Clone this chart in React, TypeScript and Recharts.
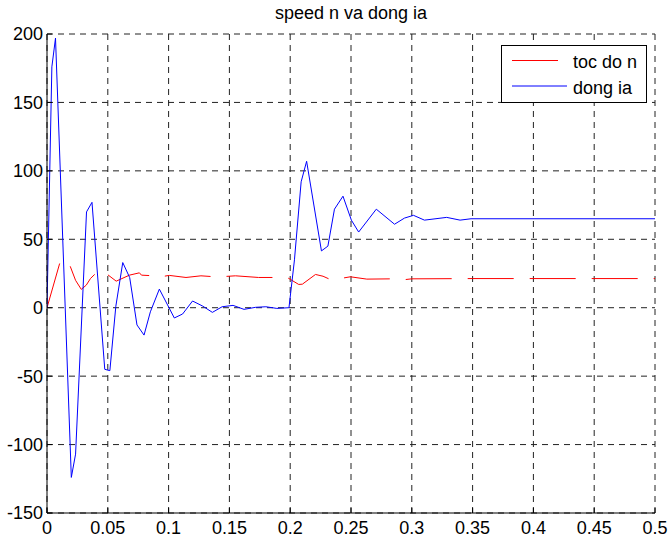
import { CartesianGrid, Legend, Line, LineChart, XAxis, YAxis } from 'recharts';

// toc do n (speed) — red, dashed
const SPEED_T = [
  0, 0.0104, 0.014, 0.018, 0.0235, 0.0282, 0.0323, 0.0358, 0.04, 0.0451, 0.0569, 0.0678, 0.076,
  0.0777, 0.084, 0.0897, 0.1006, 0.1143, 0.1266, 0.14, 0.155, 0.174, 0.1975, 0.207, 0.21, 0.2208,
  0.227, 0.234, 0.2495, 0.263, 0.2836, 0.293, 0.3, 0.35, 0.5,
];
const SPEED_N = [
  0, 32.3, 35.5, 32.8, 20, 13.4, 16.5, 21.4, 25, 27.4, 19.4, 23.8, 25.5, 23.8, 23.5, 22.1, 23.6,
  22.1, 23.3, 22.5, 23.3, 22.1, 22.1, 17, 17.2, 24.3, 23, 20.2, 22.6, 20.9, 21.1, 20.4, 21.1, 21.3,
  21.3,
];

// dong ia (current) — blue
const CURRENT_T = [
  0, 0.004, 0.007, 0.02, 0.0235, 0.0325, 0.037, 0.0475, 0.0517, 0.0566, 0.0623, 0.068, 0.074,
  0.0798, 0.085, 0.0924, 0.1047, 0.1115, 0.1197, 0.128, 0.136, 0.144, 0.153, 0.162, 0.1716, 0.18,
  0.189, 0.199, 0.2035, 0.209, 0.2135, 0.2257, 0.231, 0.2364, 0.2434, 0.2503, 0.2563, 0.2708,
  0.2858, 0.294, 0.3014, 0.3104, 0.3287, 0.3397, 0.3487, 0.5,
];
const CURRENT_IA = [
  0, 176, 197, -124, -107, 70, 77, -45, -46, 1, 33, 22, -12.6, -20, -3, 13.6, -7.5, -4.6, 4.9, 1.2,
  -3.4, 0.7, 1.7, -1.2, 0.3, 0.7, -0.5, 0, 35, 92, 107, 41.5, 45, 72, 81.5, 64, 55.3, 72, 61, 65.5,
  67.5, 64, 66, 64, 65, 65,
];

const X_TICKS = [0, 0.05, 0.1, 0.15, 0.2, 0.25, 0.3, 0.35, 0.4, 0.45, 0.5];
const Y_TICKS = [-150, -100, -50, 0, 50, 100, 150, 200];

const FONT = '"Liberation Sans", Arial, Helvetica, sans-serif';
const RED = '#ff0000';
const BLUE = '#0000ff';
const RED_DASH = '46 16';

const speed = SPEED_T.map((t, i) => ({ t, v: SPEED_N[i] }));
const current = CURRENT_T.map((t, i) => ({ t, v: CURRENT_IA[i] }));

const tickStyle = { fill: '#000', fontSize: 18, fontFamily: FONT };

function LegendBox() {
  return (
    <svg width={146} height={58} style={{ display: 'block' }}>
      <rect x={0.5} y={0.5} width={145} height={57} fill="#fff" stroke="#000" />
      <line x1={11} x2={66} y1={15.5} y2={15.5} stroke={RED} strokeDasharray={RED_DASH} />
      <text x={72} y={22.5} fontSize={18} fontFamily={FONT} fill="#000">
        toc do n
      </text>
      <line x1={11} x2={66} y1={41} y2={41} stroke={BLUE} />
      <text x={72} y={48.5} fontSize={18} fontFamily={FONT} fill="#000">
        dong ia
      </text>
    </svg>
  );
}

export default function App() {
  return (
    <div
      style={{
        position: 'absolute',
        left: 0,
        top: 0,
        width: 671,
        height: 541,
        background: '#fff',
        fontFamily: FONT,
      }}
    >
      <div
        style={{
          position: 'absolute',
          left: 47,
          width: 608,
          top: 4,
          textAlign: 'center',
          fontSize: 18,
          lineHeight: '18px',
          color: '#000',
        }}
      >
        speed n va dong ia
      </div>
      <LineChart width={671} height={541} margin={{ top: 34, right: 16, bottom: 0, left: 0 }}>
        <CartesianGrid stroke="#222" strokeDasharray="6 5" />
        <XAxis
          dataKey="t"
          type="number"
          domain={[0, 0.5]}
          ticks={X_TICKS}
          allowDataOverflow
          height={28}
          stroke="#000"
          tickSize={-5}
          tickMargin={13}
          tick={tickStyle}
        />
        <XAxis
          xAxisId="top"
          orientation="top"
          type="number"
          domain={[0, 0.5]}
          ticks={X_TICKS}
          height={0}
          stroke="#000"
          tickSize={-5}
          tickFormatter={() => ''}
        />
        <YAxis
          type="number"
          domain={[-150, 200]}
          ticks={Y_TICKS}
          allowDataOverflow
          width={47}
          stroke="#000"
          tickSize={-5}
          tickMargin={9}
          tick={tickStyle}
        />
        <YAxis
          yAxisId="right"
          orientation="right"
          type="number"
          domain={[-150, 200]}
          ticks={Y_TICKS}
          width={0}
          stroke="#000"
          tickSize={-5}
          tickFormatter={() => ''}
        />
        <Legend
          content={() => <LegendBox />}
          layout="horizontal"
          verticalAlign="middle"
          align="center"
          wrapperStyle={{ left: 501, top: 45, width: 146, height: 58 }}
        />
        <Line
          data={speed}
          dataKey="v"
          type="linear"
          stroke={RED}
          strokeWidth={1}
          strokeDasharray={RED_DASH}
          dot={false}
          activeDot={false}
          isAnimationActive={false}
        />
        <Line
          data={current}
          dataKey="v"
          type="linear"
          stroke={BLUE}
          strokeWidth={1}
          dot={false}
          activeDot={false}
          isAnimationActive={false}
        />
      </LineChart>
    </div>
  );
}
